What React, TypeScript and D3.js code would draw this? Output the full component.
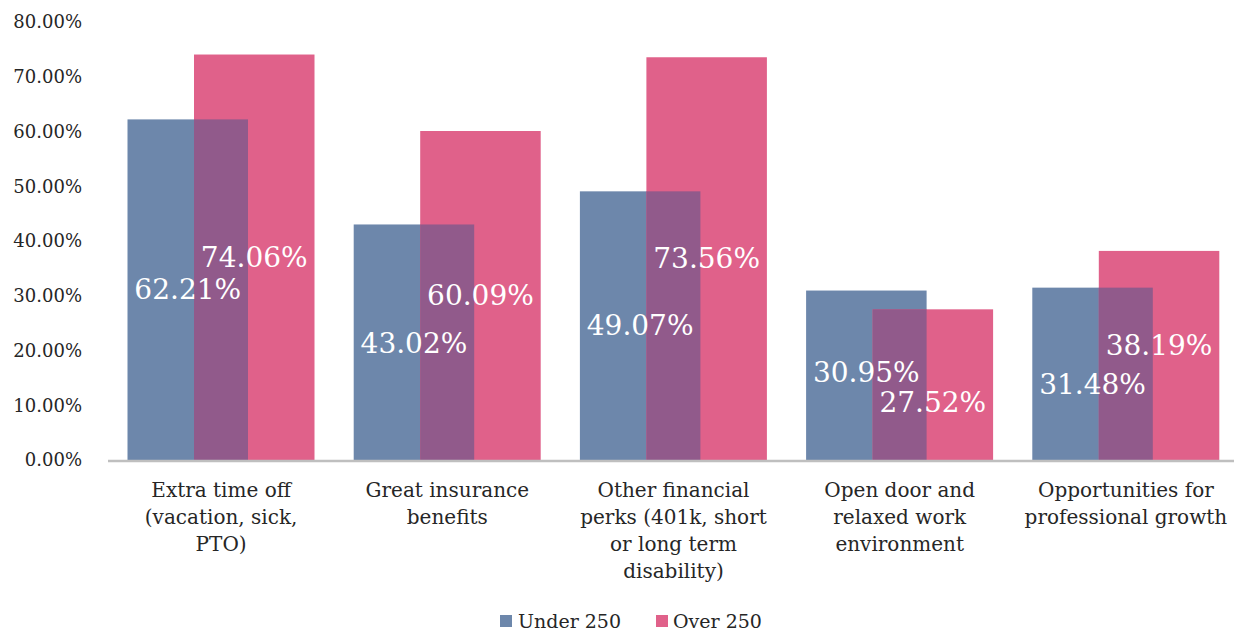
import React from "react";
import * as d3 from "d3";

const categories = [
  ["Extra time off", "(vacation, sick,", "PTO)"],
  ["Great insurance", "benefits"],
  ["Other financial", "perks (401k, short", "or long term", "disability)"],
  ["Open door and", "relaxed work", "environment"],
  ["Opportunities for", "professional growth"],
];
const under250 = [62.21, 43.02, 49.07, 30.95, 31.48];
const over250 = [74.06, 60.09, 73.56, 27.52, 38.19];
const yTicks = [0, 10, 20, 30, 40, 50, 60, 70, 80];
const seriesNames = ["Under 250", "Over 250"];

const W = 1234;
const H = 632;
const FONT = "'DejaVu Serif', 'Liberation Serif', serif";
const BLUE = "#6D87AB";
const PINK = "#E0618A";
const PURPLE = "#915A8B";
const TEXT = "#262626";

// manual label nudges (layout, in px) as in the reference
const underNudge = [0, 2, 0, -3, 11];
const overNudge = [0, 0, 0, 18, -10];

export default function App() {
  const x = d3
    .scaleBand<number>()
    .domain(d3.range(categories.length))
    .range([108, 1239]);
  const y = d3.scaleLinear().domain([0, 80]).range([460, 22]);
  const bw = 120.5;
  const blueOff = 19.5;
  const pinkOff = 86;

  return (
    <svg
      width={W}
      height={H}
      style={{ position: "absolute", left: 0, top: 0, background: "#fff" }}
      fontFamily={FONT}
    >
      {yTicks.map((t) => (
        <text
          key={t}
          x={82}
          y={y(t)}
          dy="0.35em"
          textAnchor="end"
          fontSize={18}
          fill={TEXT}
        >
          {t.toFixed(2) + "%"}
        </text>
      ))}
      {categories.map((_, i) => {
        const x0 = x(i)!;
        const bx = x0 + blueOff;
        const px = x0 + pinkOff;
        const ox0 = px;
        const ox1 = bx + bw;
        const minV = Math.min(under250[i], over250[i]);
        return (
          <g key={i}>
            <rect x={bx} y={y(under250[i])} width={bw} height={y(0) - y(under250[i])} fill={BLUE} />
            <rect x={px} y={y(over250[i])} width={bw} height={y(0) - y(over250[i])} fill={PINK} />
            <rect x={ox0} y={y(minV)} width={ox1 - ox0} height={y(0) - y(minV)} fill={PURPLE} />
          </g>
        );
      })}
      <line x1={108} x2={W} y1={y(0) + 1} y2={y(0) + 1} stroke="#BFBFBF" strokeWidth={2.5} />
      {categories.map((_, i) => {
        const x0 = x(i)!;
        const bc = x0 + blueOff + bw / 2;
        const pc = x0 + pinkOff + bw / 2;
        return (
          <g key={"l" + i} fontSize={28} fill="#fff" textAnchor="middle">
            <text x={bc} y={(y(under250[i]) + y(0)) / 2 + underNudge[i]} dy="0.33em">
              {under250[i].toFixed(2) + "%"}
            </text>
            <text x={pc} y={(y(over250[i]) + y(0)) / 2 + overNudge[i]} dy="0.33em">
              {over250[i].toFixed(2) + "%"}
            </text>
          </g>
        );
      })}
      {categories.map((lines, i) => {
        const cx = x(i)! + x.bandwidth() / 2;
        return (
          <text key={"c" + i} textAnchor="middle" fontSize={20} fill={TEXT}>
            {lines.map((ln, j) => (
              <tspan key={j} x={cx} y={490 + j * 27} dy="0.35em">
                {ln}
              </tspan>
            ))}
          </text>
        );
      })}
      <g fontSize={19} fill={TEXT}>
        <rect x={500} y={615} width={12} height={12} fill={BLUE} />
        <text x={518} y={621} dy="0.35em">{seriesNames[0]}</text>
        <rect x={656} y={615} width={12} height={12} fill={PINK} />
        <text x={673} y={621} dy="0.35em">{seriesNames[1]}</text>
      </g>
    </svg>
  );
}
